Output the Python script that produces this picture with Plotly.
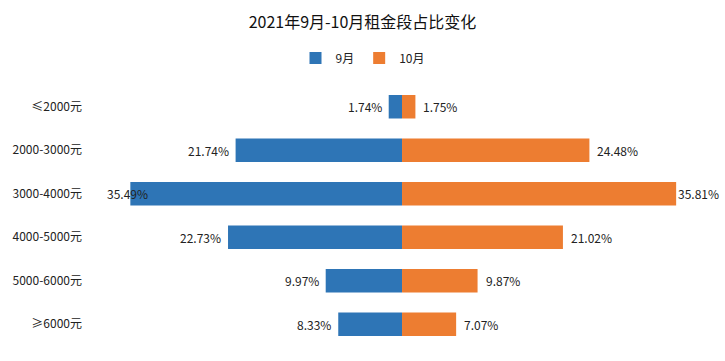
import plotly.graph_objects as go

categories = ["≤2000元", "2000-3000元", "3000-4000元", "4000-5000元", "5000-6000元", "≥6000元"]
sep_values = [1.74, 21.74, 35.49, 22.73, 9.97, 8.33]
oct_values = [1.75, 24.48, 35.81, 21.02, 9.87, 7.07]
series_names = ["9月", "10月"]
title_text = "2021年9月-10月租金段占比变化"

BLUE = "#2E75B6"
ORANGE = "#ED7D31"
XMIN, XMAX = -38.8, 41.8
LABEL_UNITS = 6.5  # approx. label width + gap, in axis units
FONT = "Noto Sans CJK SC, Liberation Sans, sans-serif"
LBL = dict(size=12, color="#222", family=FONT)

fig = go.Figure()
fig.add_trace(go.Bar(y=categories, x=[-v for v in sep_values], orientation="h",
                     name=series_names[0], marker=dict(color=BLUE, line=dict(width=0)),
                     width=0.54))
fig.add_trace(go.Bar(y=categories, x=oct_values, orientation="h",
                     name=series_names[1], marker=dict(color=ORANGE, line=dict(width=0)),
                     width=0.54))

annotations = []
for c, v in zip(categories, sep_values):
    if -v - LABEL_UNITS < XMIN:
        annotations.append(dict(x=XMIN, y=c, text=f"{v:.2f}%", xanchor="left",
                                showarrow=False, font=LBL))
    else:
        annotations.append(dict(x=-v, y=c, text=f"{v:.2f}%", xanchor="right", xshift=-5,
                                showarrow=False, font=LBL))
for c, v in zip(categories, oct_values):
    if v + LABEL_UNITS > XMAX:
        annotations.append(dict(x=XMAX, y=c, text=f"{v:.2f}%", xanchor="right", xshift=-1,
                                showarrow=False, font=LBL))
    else:
        annotations.append(dict(x=v, y=c, text=f"{v:.2f}%", xanchor="left", xshift=6,
                                showarrow=False, font=LBL))

fig.update_layout(
    width=725, height=361,
    margin=dict(l=105, r=3, t=85, b=15, autoexpand=False),
    paper_bgcolor="white", plot_bgcolor="white",
    barmode="relative",
    font=dict(family=FONT, size=12, color="#222"),
    title=dict(text=title_text, x=0.5, xref="container", xanchor="center",
               y=1 - 22 / 361, yref="container", yanchor="middle",
               font=dict(size=16, color="#111", family=FONT)),
    legend=dict(orientation="h", x=0.5, xref="container", xanchor="center",
                y=1 - 58 / 361, yref="container", yanchor="middle",
                font=dict(size=12, color="#222", family=FONT),
                itemwidth=30, tracegroupgap=0),
    xaxis=dict(range=[XMIN, XMAX], showgrid=False, zeroline=False, automargin=False,
               showticklabels=False, ticks="", showline=False, fixedrange=True),
    yaxis=dict(categoryorder="array", categoryarray=categories, autorange="reversed",
               showgrid=False, zeroline=False, showline=False, ticks="", automargin=False,
               ticklabelstandoff=22, tickfont=LBL),
    annotations=annotations,
)

fig.write_html("out.html", config={"displayModeBar": False},
               post_script="document.body.style.margin='0';document.body.style.padding='0';")
